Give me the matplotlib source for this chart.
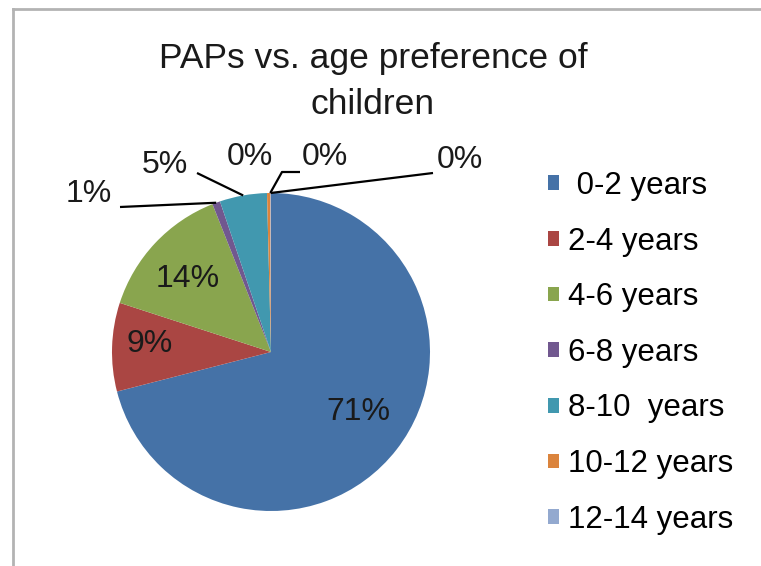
import matplotlib
matplotlib.use("Agg")
import matplotlib.pyplot as plt
import numpy as np
from matplotlib.lines import Line2D
from matplotlib.patches import Patch

plt.rcParams["font.family"] = ["Liberation Sans", "DejaVu Sans"]

# data (percent shares; last slice has no visible legend entry)
categories = [" 0-2 years", "2-4 years", "4-6 years", "6-8 years", "8-10  years",
              "10-12 years", "12-14 years", "14+ years"]
shares = [71.0, 9.0, 14.0, 0.8, 4.8, 0.3, 0.05, 0.05]
colors = ["#4572A7", "#AA4643", "#89A54E", "#71588F", "#4198AF",
          "#DB843D", "#93A9CF", "#BC9A8E"]
n_legend = 7

W, H = 761, 566
CX, CY, R = 271, 352, 159  # pie centre / radius in image pixels
FS = 23


def px(x, y):
    """image pixel (from top-left) -> data coords of the pie axes"""
    return (x - CX) / R, (CY - y) / R


fig = plt.figure(figsize=(W / 100, H / 100), dpi=100)
ax = fig.add_axes([0, 0, 1, 1])
wedges, _ = ax.pie(shares, colors=colors, startangle=90, counterclock=False,
                   wedgeprops=dict(linewidth=0))
ax.set_aspect("auto")
ax.set_xlim(-CX / R, (W - CX) / R)
ax.set_ylim(-(H - CY) / R, CY / R)
ax.axis("off")

total = sum(shares)
pct = [f"{round(v / total * 100):.0f}%" for v in shares]


def edge_point(w, r=1.0):
    a = np.deg2rad((w.theta1 + w.theta2) / 2)
    return r * np.cos(a), r * np.sin(a)


# inside labels
inside = {0: (358, 412), 1: (150, 344), 2: (188, 279)}
for i, (x, y) in inside.items():
    ax.text(*px(x, y), pct[i], ha="center", va="center", fontsize=FS, color="#1a1a1a")

# outside labels with leader lines: label centre, then polyline points before the slice
outside = {
    3: ((89, 194), [(120, 207)]),
    4: ((165, 165), [(197, 173)]),
    5: ((250, 157), []),
    6: ((325, 157), [(300, 172), (282, 172)]),
    7: ((460, 160), [(433, 173)]),
}
for i, ((x, y), pts) in outside.items():
    ax.text(*px(x, y), pct[i], ha="center", va="center", fontsize=FS, color="#1a1a1a")
    if pts:
        line = [px(*p) for p in pts] + [edge_point(wedges[i])]
        xs, ys = zip(*line)
        ax.plot(xs, ys, color="black", linewidth=1.6, solid_capstyle="butt")

fig.text(373 / W, 1 - 58 / H, "PAPs vs. age preference of", ha="center", va="center",
         fontsize=25.5, color="#1a1a1a")
fig.text(373 / W, 1 - 104 / H, "children", ha="center", va="center",
         fontsize=25.5, color="#1a1a1a")

handles = [Patch(facecolor=colors[i], edgecolor="none") for i in range(n_legend)]
fig.legend(handles, categories[:n_legend], loc="upper left",
           bbox_to_anchor=(548 / W, 1 - 171 / H), frameon=False, fontsize=22.5,
           handlelength=0.35, handleheight=0.35, handletextpad=0.3,
           labelspacing=0.82, borderaxespad=0, borderpad=0)

# chart-area frame (only left and top are inside the crop)
fig.add_artist(Line2D([13 / W, 13 / W], [0, 1 - 9 / H], transform=fig.transFigure,
                      color="#b3b3b3", linewidth=2))
fig.add_artist(Line2D([13 / W, 1], [1 - 9 / H, 1 - 9 / H], transform=fig.transFigure,
                      color="#b3b3b3", linewidth=2))

fig.savefig("out.png", dpi=100)
